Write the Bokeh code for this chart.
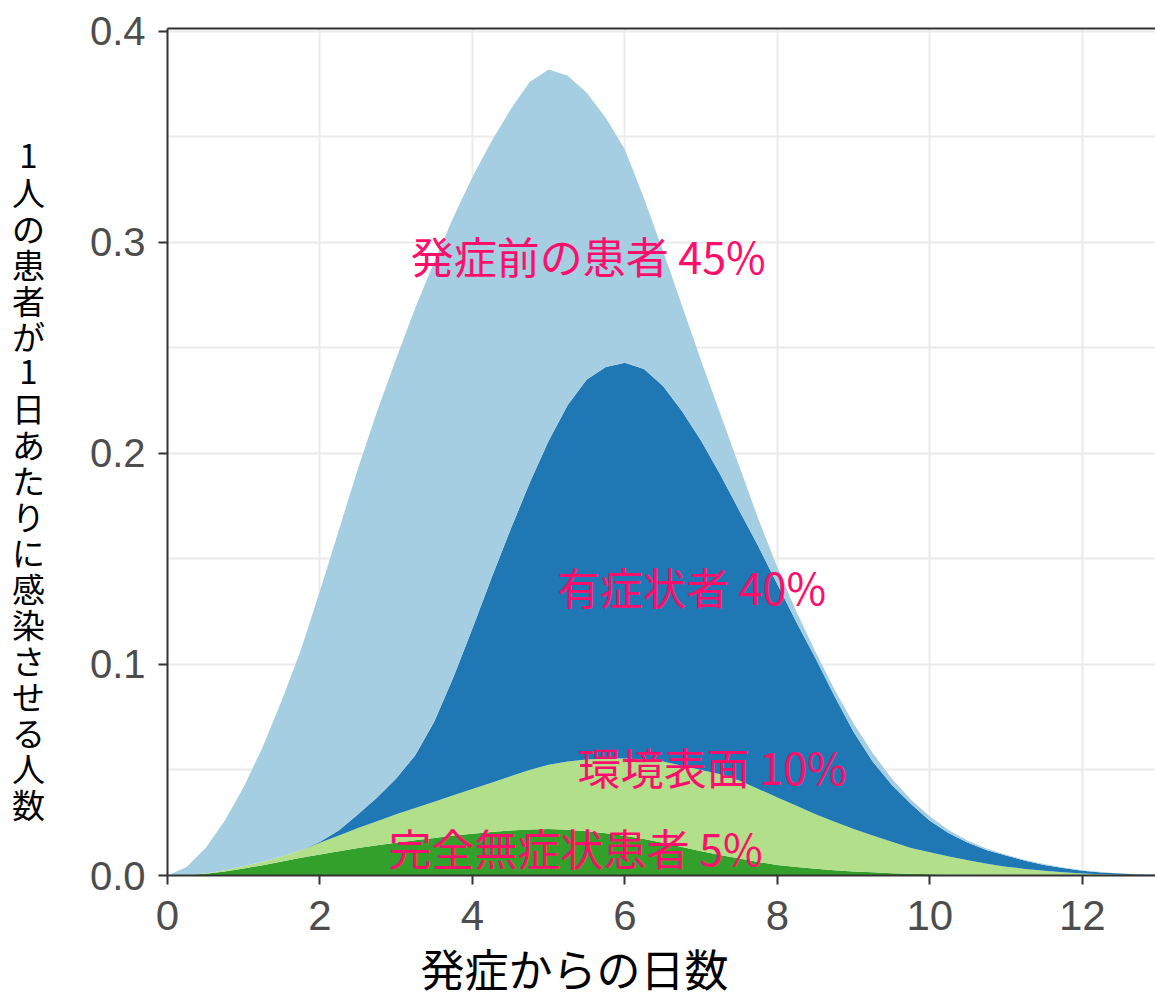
import numpy as np
from bokeh.plotting import figure
from bokeh.layouts import row
from bokeh.models import (Range1d, FixedTicker, LinearAxis, Label, ColumnDataSource,
                          PrintfTickFormatter, Title)
from bokeh.core.properties import value
from bokeh.embed import file_html
from bokeh.resources import INLINE

# ---- data; stacked boundaries, bottom to top ----
days = [0, 0.25, 0.5, 0.75, 1, 1.25, 1.5, 1.75, 2, 2.25, 2.5, 2.75, 3, 3.25, 3.5, 3.75,
        4, 4.25, 4.5, 4.75, 5, 5.25, 5.5, 5.75, 6, 6.25, 6.5, 6.75, 7, 7.25, 7.5, 7.75,
        8, 8.25, 8.5, 8.75, 9, 9.25, 9.5, 9.75, 10, 10.25, 10.5, 10.75, 11, 11.25, 11.5,
        11.75, 12, 12.25, 12.5, 12.75, 13]
# top of 完全無症状患者 (asymptomatic) layer
asymptomatic_top = [0, 0.0002, 0.0008, 0.0019, 0.0033, 0.0049, 0.0066, 0.0084, 0.010, 0.0115,
                    0.013, 0.0143, 0.0155, 0.0167, 0.0178, 0.0189, 0.0198, 0.0206, 0.0213,
                    0.0218, 0.022, 0.0217, 0.021, 0.020, 0.0188, 0.0173, 0.0155, 0.0135,
                    0.0115, 0.0097, 0.008, 0.0064, 0.005, 0.004, 0.0032, 0.0025, 0.0019,
                    0.0015, 0.0011, 0.0008, 0.0006, 0.0004, 0.0003, 0.0002, 0.00015, 0.0001,
                    0.00005, 0, 0, 0, 0, 0, 0]
# top of 環境表面 (environmental) layer
environmental_top = [0, 0.0002, 0.0009, 0.0025, 0.0045, 0.0065, 0.009, 0.012, 0.0155, 0.019,
                     0.0225, 0.0257, 0.029, 0.032, 0.035, 0.038, 0.041, 0.044, 0.047, 0.050,
                     0.0525, 0.054, 0.055, 0.0555, 0.0555, 0.055, 0.054, 0.052, 0.050, 0.048,
                     0.045, 0.041, 0.037, 0.033, 0.029, 0.0255, 0.022, 0.019, 0.016, 0.013,
                     0.011, 0.009, 0.0072, 0.0056, 0.0042, 0.0031, 0.0022, 0.0015, 0.001,
                     0.0006, 0.0004, 0.0002, 0.0001]
# top of 有症状者 (symptomatic) layer
symptomatic_top = [0, 0.0002, 0.0009, 0.0025, 0.0045, 0.0065, 0.009, 0.012, 0.016, 0.0215,
                   0.029, 0.037, 0.046, 0.057, 0.073, 0.094, 0.117, 0.141, 0.164, 0.186, 0.206,
                   0.223, 0.235, 0.241, 0.243, 0.240, 0.232, 0.220, 0.206, 0.190, 0.173, 0.156,
                   0.138, 0.120, 0.103, 0.085, 0.068, 0.054, 0.043, 0.034, 0.026, 0.020,
                   0.0155, 0.012, 0.0095, 0.007, 0.005, 0.0035, 0.0022, 0.0014, 0.0009, 0.0005,
                   0.0003]
# top of 発症前の患者 (pre-symptomatic) layer = total
presymptomatic_top = [0, 0.004, 0.013, 0.026, 0.042, 0.061, 0.083, 0.107, 0.135, 0.164, 0.193,
                      0.220, 0.245, 0.269, 0.291, 0.312, 0.331, 0.348, 0.363, 0.376, 0.382,
                      0.379, 0.371, 0.359, 0.344, 0.321, 0.296, 0.270, 0.244, 0.219, 0.194,
                      0.169, 0.146, 0.125, 0.106, 0.088, 0.072, 0.058, 0.046, 0.036, 0.028,
                      0.0215, 0.0165, 0.0127, 0.0098, 0.0074, 0.0054, 0.0038, 0.0025, 0.0016,
                      0.001, 0.0006, 0.0004]

series_names = ["完全無症状患者", "環境表面", "有症状者", "発症前の患者"]
series_share = ["5%", "10%", "40%", "45%"]
series_colors = ["#33a02c", "#b2df8a", "#1f78b4", "#a6cee3"]

x_ticks = [0, 2, 4, 6, 8, 10, 12]
y_ticks = [0.0, 0.1, 0.2, 0.3, 0.4]
y_minor = [0.05, 0.15, 0.25, 0.35]

x_title = "発症からの日数"
y_title = "1人の患者が1日あたりに感染させる人数"

JP = "Noto Sans CJK JP"

# ---- main figure ----
p = figure(width=1095, height=1000, output_backend="svg", toolbar_location=None,
           x_range=Range1d(0, 12.96), y_range=Range1d(0, 0.4014),
           min_border_left=107, min_border_right=0, min_border_top=28, min_border_bottom=125)
p.outline_line_color = None
p.background_fill_color = "white"

tops = [asymptomatic_top, environmental_top, symptomatic_top, presymptomatic_top]
src = {"x": days}
prev = [0.0] * len(days)
for i, t in enumerate(tops):
    src[f"b{i}"] = prev
    src[f"t{i}"] = t
    prev = t
source = ColumnDataSource(src)
for i in range(len(tops)):
    p.varea(x="x", y1=f"b{i}", y2=f"t{i}", source=source,
            fill_color=series_colors[i], fill_alpha=1.0)

axis_col = "#333333"
for ax in [p.xaxis[0], p.yaxis[0]]:
    ax.axis_line_color = axis_col
    ax.axis_line_width = 2
    ax.major_tick_line_color = axis_col
    ax.major_tick_line_width = 2
    ax.major_tick_out = 9
    ax.major_tick_in = 0
    ax.minor_tick_line_color = None
    ax.major_label_text_color = "#4d4d4d"
    ax.major_label_text_font = "Liberation Sans"

p.xaxis.ticker = FixedTicker(ticks=x_ticks)
p.xaxis.major_label_text_font_size = "42px"
p.xaxis.major_label_standoff = 16
p.yaxis.ticker = FixedTicker(ticks=y_ticks, minor_ticks=y_minor)
p.yaxis.formatter = PrintfTickFormatter(format="%.1f")
p.yaxis.major_label_text_font_size = "40px"
p.yaxis.major_label_standoff = 13

top_axis = LinearAxis(ticker=FixedTicker(ticks=[]), major_label_text_font_size="0px",
                      axis_line_color=axis_col, axis_line_width=2,
                      major_tick_line_color=None, minor_tick_line_color=None)
p.add_layout(top_axis, "above")

grid_col = "#ebebeb"
p.xgrid.grid_line_color = grid_col
p.xgrid.grid_line_width = 2
p.ygrid.grid_line_color = grid_col
p.ygrid.grid_line_width = 2
p.ygrid.minor_grid_line_color = grid_col
p.ygrid.minor_grid_line_width = 2

pink = "#ff0f6b"
label_pos = [(2.90, 0.0137), (5.38, 0.0521), (5.11, 0.1374), (3.19, 0.294)]
for (lx, ly), name, share in zip(label_pos, series_names, series_share):
    p.add_layout(Label(x=lx, y=ly, text=f"{name} {share}", text_color=pink,
                       text_font=JP, text_font_size="43px",
                       text_align="left", text_baseline="middle"))

p.add_layout(Title(text=x_title, align="left", offset=253, standoff=2, text_font=JP,
                   text_font_size="44px", text_font_style="normal",
                   text_color="black"), "below")

# ---- left strip with the vertical (upright) y-axis title ----
# its frame is aligned with the main frame (rows 28..875 of the page), so data y = page row
pl = figure(width=60, height=1000, output_backend="svg", toolbar_location=None,
            x_range=Range1d(0, 60), y_range=Range1d(875, 28), min_border=0,
            x_axis_type=None, y_axis_type=None)
pl.outline_line_color = None
pl.xgrid.visible = False
pl.ygrid.visible = False
chars = list(y_title)
ysrc = ColumnDataSource({"x": [28] * len(chars),
                         "y": [155 + 36 * i for i in range(len(chars))],
                         "t": chars})
pl.text(x="x", y="y", text="t", source=ysrc, text_font=value(JP), text_font_size="33px",
        text_align="center", text_baseline="middle", text_color="black")

layout = row(pl, p)
open("out.html", "w").write(file_html(layout, INLINE))
